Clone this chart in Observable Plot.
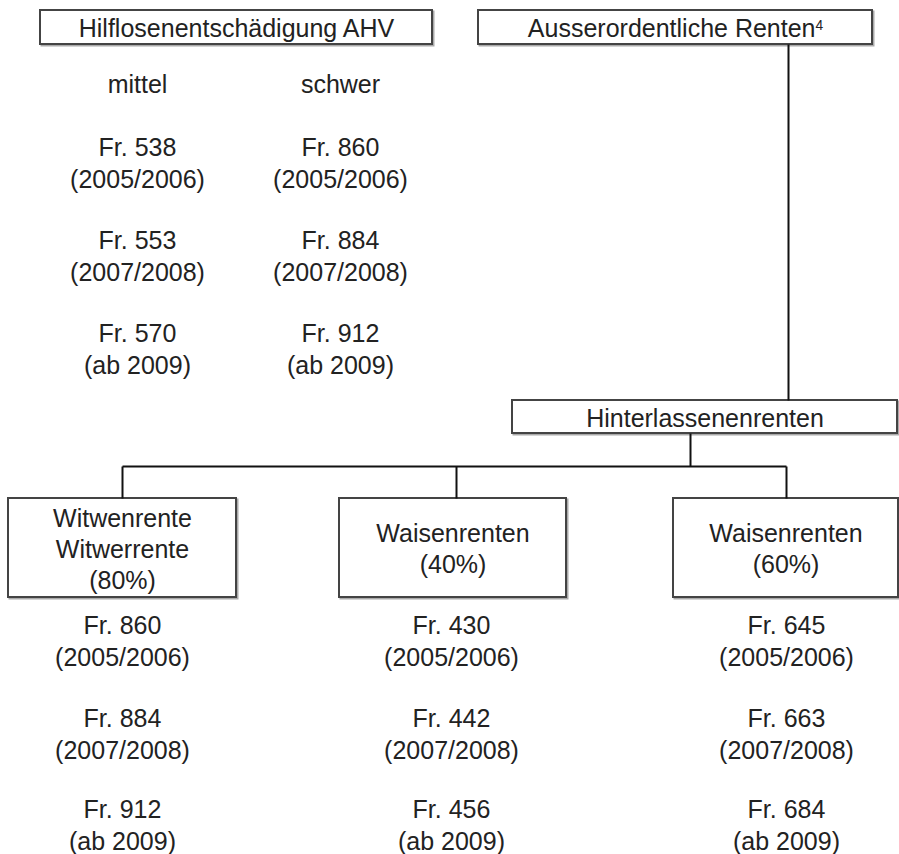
<!DOCTYPE html>
<html><head><meta charset="utf-8">
<script src="https://cdn.jsdelivr.net/npm/d3@7"></script>
<script src="https://cdn.jsdelivr.net/npm/@observablehq/plot@0.6"></script>
<style>body{margin:0;background:#fff}</style>
</head><body><div id="chart"></div>
<script>
// ---- data ----
const topBoxLabels = ["Hilflosenentschädigung AHV", "Ausserordentliche Renten"];
const topBoxFootnotes = ["", "4"];
const helplessGrades = ["mittel", "schwer"];
const periods = ["(2005/2006)", "(2007/2008)", "(ab 2009)"];
const mittelAmounts = [538, 553, 570];
const schwerAmounts = [860, 884, 912];
const survivorLabel = "Hinterlassenenrenten";
const survivorCategories = ["Witwenrente\nWitwerrente\n(80%)", "Waisenrenten\n(40%)", "Waisenrenten\n(60%)"];
const widowAmounts = [860, 884, 912];
const orphan40Amounts = [430, 442, 456];
const orphan60Amounts = [645, 663, 684];

// ---- layout (pixel grid of the diagram) ----
const W = 899, H = 854;
const topBoxY = [10, 44];
const topBoxX = [[40, 432], [478, 872]];
const helplessColX = [137, 340];
const helplessHeaderY = 82;
const helplessRowY = [161, 254, 347];
const survivorBox = {x1: 512, x2: 897, y1: 400, y2: 433};
const branchY = 466;
const childColX = [122, 451, 786];
const childDropX = [122, 456, 786];
const childBoxX = [[8, 236], [339, 566], [673, 898]];
const childBoxY = [498, 597];
const childRowY = [639, 732, 823];
const trunkX = 788, splitX = 690;

const fmt = (v, i) => `Fr. ${v}\n${periods[i]}`;

const boxes = [
  ...topBoxLabels.map((label, i) => ({label, note: topBoxFootnotes[i], x1: topBoxX[i][0], x2: topBoxX[i][1], y1: topBoxY[0], y2: topBoxY[1]})),
  {label: survivorLabel, note: "", ...survivorBox},
  ...survivorCategories.map((label, i) => ({label, note: "", x1: childBoxX[i][0], x2: childBoxX[i][1], y1: childBoxY[0], y2: childBoxY[1]}))
];

const links = [
  {x1: trunkX, y1: topBoxY[1], x2: trunkX, y2: survivorBox.y1},
  {x1: splitX, y1: survivorBox.y2, x2: splitX, y2: branchY},
  {x1: childDropX[0], y1: branchY, x2: childDropX[2], y2: branchY},
  ...childDropX.map(x => ({x1: x, y1: branchY, x2: x, y2: childBoxY[0]}))
];

const amountTexts = [
  ...helplessGrades.map((g, i) => ({text: g, x: helplessColX[i], y: helplessHeaderY})),
  ...mittelAmounts.map((v, i) => ({text: fmt(v, i), x: helplessColX[0], y: helplessRowY[i]})),
  ...schwerAmounts.map((v, i) => ({text: fmt(v, i), x: helplessColX[1], y: helplessRowY[i]})),
  ...[widowAmounts, orphan40Amounts, orphan60Amounts].flatMap((arr, c) =>
    arr.map((v, i) => ({text: fmt(v, i), x: childColX[c], y: childRowY[i]})))
];

const chart = Plot.plot({
  width: W, height: H, margin: 0,
  x: {domain: [0, W], range: [0, W], axis: null},
  y: {domain: [0, H], range: [0, H], axis: null},
  style: {fontFamily: "'Liberation Sans', Arial, sans-serif", background: "#fff"},
  marks: [
    Plot.rect(boxes, {x1: d => d.x1 + 1.5, x2: d => d.x2 + 1.5, y1: d => d.y1 + 1.5, y2: d => d.y2 + 1.5, fill: "none", stroke: "#aaa", strokeWidth: 2}),
    Plot.rect(boxes, {x1: "x1", x2: "x2", y1: "y1", y2: "y2", fill: "#fff", stroke: "#444", strokeWidth: 2}),
    Plot.link(links, {x1: "x1", y1: "y1", x2: "x2", y2: "y2", stroke: "#111", strokeWidth: 2}),
    Plot.text(boxes, {x: d => (d.x1 + d.x2) / 2, y: d => (d.y1 + d.y2) / 2, text: "label", fontSize: 25, lineHeight: 1.24, fill: "#222", className: "boxlabel"}),
    Plot.text(amountTexts, {x: "x", y: "y", text: "text", fontSize: 25, lineHeight: 1.28, fill: "#222"})
  ]
});
// attach footnote markers as superscripts
d3.select(chart).selectAll(".boxlabel text").each(function(d, i) {
  const idx = +(this.__data__ ?? i);
  const b = boxes[idx];
  if (b && b.note) {
    d3.select(this).append("tspan").attr("dy", "-0.55em").attr("font-size", "0.55em").text(b.note);
  }
});
document.getElementById("chart").appendChild(chart);
</script>
</body></html>
